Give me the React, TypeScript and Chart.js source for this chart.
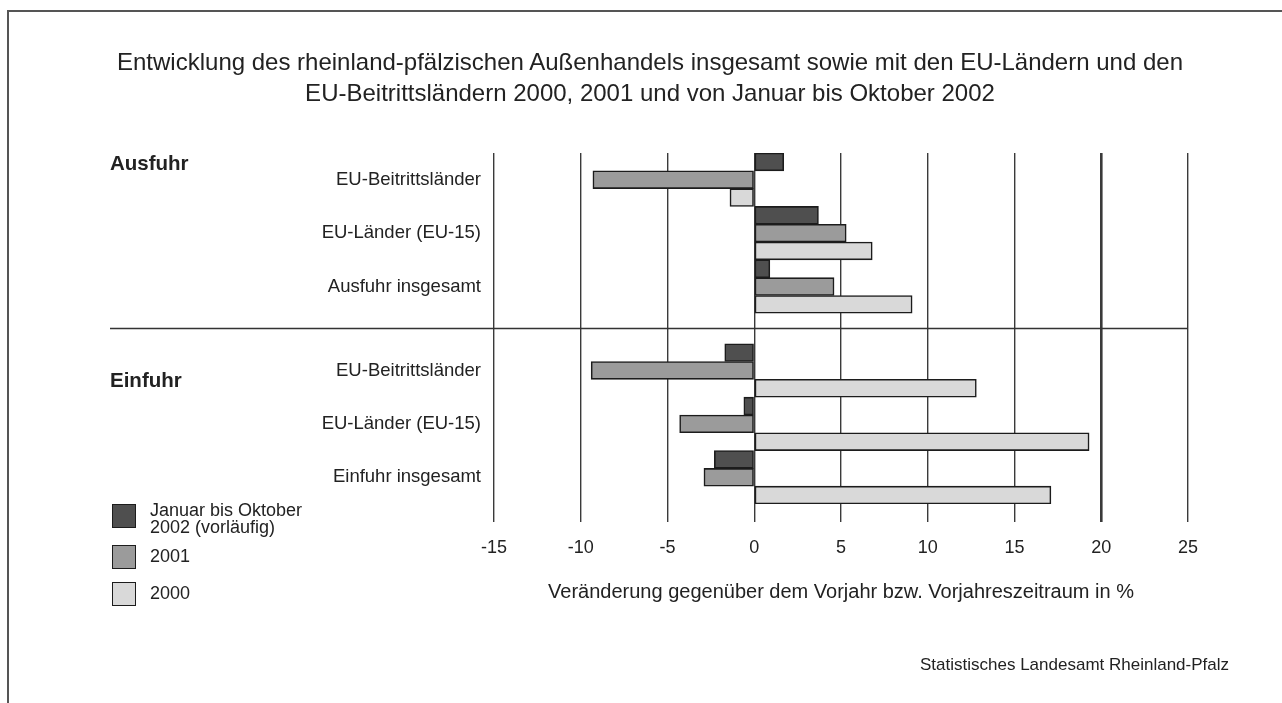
import React, { useEffect, useRef } from "react";
import { Chart, registerables } from "chart.js";

Chart.register(...registerables);

// ---- data ----
const categories = [
  "EU-Beitrittsländer",
  "EU-Länder (EU-15)",
  "Ausfuhr insgesamt",
  "EU-Beitrittsländer",
  "EU-Länder (EU-15)",
  "Einfuhr insgesamt",
];
const rowPositions = [0, 1, 2, 3.57, 4.57, 5.57];
const sectionLabels = ["Ausfuhr", "Einfuhr"];
const seriesLabels = ["Januar bis Oktober 2002 (vorläufig)", "2001", "2000"];
const values2002 = [1.7, 3.7, 0.9, -1.7, -0.6, -2.3];
const values2001 = [-9.3, 5.3, 4.6, -9.4, -4.3, -2.9];
const values2000 = [-1.4, 6.8, 9.1, 12.8, 19.3, 17.1];
const xMin = -15;
const xMax = 25;
const xStep = 5;
const titleLines = [
  "Entwicklung des rheinland-pfälzischen Außenhandels insgesamt sowie mit den EU-Ländern und den",
  "EU-Beitrittsländern 2000, 2001 und von Januar bis Oktober 2002",
];
const xTitle = "Veränderung gegenüber dem Vorjahr bzw. Vorjahreszeitraum in %";
const sourceText = "Statistisches Landesamt Rheinland-Pfalz";
const legendLines = [["Januar bis Oktober", "2002 (vorläufig)"], ["2001"], ["2000"]];

const colors = ["#4f4f4f", "#9b9b9b", "#d9d9d9"];
const FONT = "'Liberation Sans', Arial, Helvetica, sans-serif";
const TEXT = "#222";

const W = 1282;
const H = 703;

const separatorPlugin = {
  id: "separator",
  afterDatasetsDraw(chart: any) {
    const y = chart.scales.y;
    const ctx = chart.ctx;
    const yy = y.getPixelForValue((rowPositions[2] + rowPositions[3]) / 2);
    ctx.save();
    ctx.strokeStyle = "#333";
    ctx.lineWidth = 1.5;
    ctx.beginPath();
    ctx.moveTo(110, yy);
    ctx.lineTo(chart.chartArea.right, yy);
    ctx.stroke();
    ctx.restore();
  },
};

function ChartCanvas() {
  const ref = useRef<HTMLCanvasElement | null>(null);
  useEffect(() => {
    if (!ref.current) return;
    const series = [values2002, values2001, values2000];
    const chart = new Chart(ref.current, {
      type: "bar",
      data: {
        datasets: series.map((vals, d) => ({
          label: seriesLabels[d],
          data: rowPositions.map((p, i) => ({ x: vals[i], y: p })),
          backgroundColor: colors[d],
          borderColor: "#1c1c1c",
          borderWidth: 1.6,
          borderSkipped: false,
          categoryPercentage: 1,
          barPercentage: 1,
        })),
      },
      options: {
        indexAxis: "y",
        animation: false,
        responsive: false,
        devicePixelRatio: 1,
        layout: { padding: { top: 153, right: W - 1188, bottom: 0, left: 0 } },
        plugins: {
          legend: { display: false },
          tooltip: { enabled: false },
          title: { display: false },
        },
        scales: {
          x: {
            type: "linear",
            min: xMin,
            max: xMax,
            afterFit: (s: any) => {
              s.height = H - 504;
            },
            ticks: {
              stepSize: xStep,
              color: TEXT,
              font: { family: FONT, size: 18 },
              padding: 15,
            },
            grid: {
              color: "#3a3a3a",
              lineWidth: (c: any) => (c.tick && c.tick.value === 20 ? 2.6 : 1.4),
              tickLength: 18,
              drawTicks: true,
            },
            border: { display: false },
            title: {
              display: true,
              text: xTitle,
              color: TEXT,
              font: { family: FONT, size: 20 },
              padding: { top: 0, bottom: 99 },
            },
          },
          y: {
            type: "linear",
            reverse: true,
            offset: false,
            min: rowPositions[0] - 0.5,
            max: rowPositions[rowPositions.length - 1] + 0.5,
            afterFit: (s: any) => {
              s.width = 494;
            },
            afterBuildTicks: (s: any) => {
              s.ticks = rowPositions.map((v) => ({ value: v }));
            },
            ticks: {
              autoSkip: false,
              color: TEXT,
              font: { family: FONT, size: 18.5 },
              padding: 13,
              callback: (_v: any, i: number) => categories[i],
            },
            grid: { display: false, drawTicks: false, offset: false },
            border: { display: false },
          },
        },
      },
      plugins: [separatorPlugin],
    } as any);
    return () => chart.destroy();
  }, []);
  return (
    <canvas
      ref={ref}
      width={W}
      height={H}
      style={{ position: "absolute", left: 0, top: 0, width: W, height: H, display: "block" }}
    />
  );
}

function Txt(props: {
  x: number;
  baseline: number;
  size: number;
  text: string;
  bold?: boolean;
  align?: "left" | "center" | "right";
}) {
  const { x, baseline, size, text, bold, align = "left" } = props;
  const top = baseline - 0.8465 * size;
  const style: any = {
    position: "absolute",
    top,
    fontFamily: FONT,
    fontSize: size,
    lineHeight: `${size}px`,
    fontWeight: bold ? "bold" : "normal",
    color: TEXT,
    whiteSpace: "nowrap",
  };
  if (align === "left") style.left = x;
  else if (align === "right") style.right = W - x;
  else {
    style.left = x;
    style.transform = "translateX(-50%)";
  }
  return <div style={style}>{text}</div>;
}

export default function App() {
  const swatchTops = [504, 545, 582];
  const legendBaselines = [[516.7, 533.3], [562.7], [599.3]];
  return (
    <div
      style={{
        position: "fixed",
        left: 0,
        top: 0,
        width: W,
        height: H,
        background: "#fff",
        overflow: "hidden",
      }}
    >
      <ChartCanvas />
      {/* frame */}
      <div style={{ position: "absolute", left: 7, top: 10, width: W - 7, height: 2, background: "#555" }} />
      <div style={{ position: "absolute", left: 7, top: 10, width: 2, height: H - 10, background: "#555" }} />
      {/* title */}
      <Txt x={650} baseline={70} size={24} text={titleLines[0]} align="center" />
      <Txt x={650} baseline={101.7} size={24} text={titleLines[1]} align="center" />
      {/* section labels */}
      <Txt x={110} baseline={170} size={20.5} text={sectionLabels[0]} bold />
      <Txt x={110} baseline={387} size={20.5} text={sectionLabels[1]} bold />
      {/* legend */}
      {swatchTops.map((t, i) => (
        <div
          key={"sw" + i}
          style={{
            position: "absolute",
            left: 112,
            top: t,
            width: 24,
            height: 24,
            boxSizing: "border-box",
            border: "1.5px solid #1c1c1c",
            background: colors[i],
          }}
        />
      ))}
      {legendLines.map((lines, i) =>
        lines.map((ln, j) => (
          <Txt key={"lg" + i + "_" + j} x={150} baseline={legendBaselines[i][j]} size={18} text={ln} />
        ))
      )}
      {/* source */}
      <Txt x={1229} baseline={670} size={17} text={sourceText} align="right" />
    </div>
  );
}
